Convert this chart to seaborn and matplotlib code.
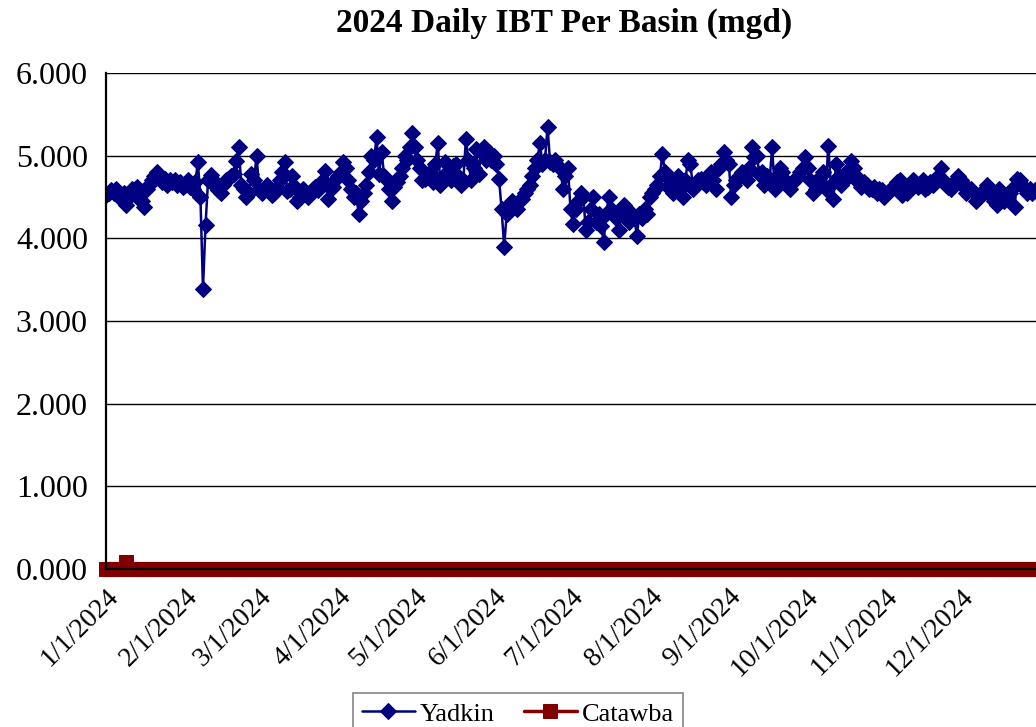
import pandas as pd
import matplotlib
matplotlib.use("Agg")
import matplotlib.pyplot as plt
import seaborn as sns

# daily values, one list per month
jan = [4.52, 4.55, 4.58, 4.55, 4.60, 4.50, 4.48, 4.55, 4.40, 4.50, 4.60, 4.55, 4.62, 4.48, 4.45, 4.38,
       4.60, 4.65, 4.70, 4.75, 4.80, 4.72, 4.68, 4.72, 4.65, 4.70, 4.68, 4.70, 4.65, 4.68, 4.62]
feb = [4.65, 4.70, 4.62, 4.60, 4.68, 4.92, 4.50, 3.39, 4.16, 4.70, 4.77, 4.70, 4.62, 4.58, 4.55,
       4.65, 4.70, 4.72, 4.75, 4.78, 4.93, 5.11, 4.65, 4.60, 4.50, 4.55, 4.78, 4.70, 5.00]
mar = [4.60, 4.55, 4.60, 4.65, 4.58, 4.52, 4.55, 4.62, 4.70, 4.80, 4.92, 4.57, 4.60, 4.75, 4.62, 4.45,
       4.50, 4.60, 4.55, 4.50, 4.55, 4.60, 4.62, 4.58, 4.65, 4.70, 4.81, 4.47, 4.60, 4.62, 4.72]
apr = [4.75, 4.80, 4.92, 4.85, 4.70, 4.60, 4.50, 4.55, 4.29, 4.45, 4.55, 4.65, 4.80, 5.00, 4.95,
       5.22, 4.78, 5.05, 4.75, 4.70, 4.60, 4.45, 4.62, 4.68, 4.75, 4.85, 5.00, 4.95, 5.10, 5.27]
may = [5.10, 4.95, 4.85, 4.70, 4.72, 4.75, 4.80, 4.68, 4.90, 5.15, 4.65, 4.75, 4.92, 4.80, 4.70, 4.88,
       4.90, 4.75, 4.65, 4.70, 5.20, 4.95, 4.70, 4.85, 5.08, 4.78, 5.05, 5.10, 4.95, 5.05, 4.95]
jun = [5.00, 4.90, 4.72, 4.35, 3.90, 4.30, 4.40, 4.45, 4.38, 4.35, 4.45, 4.48, 4.55, 4.60, 4.65,
       4.75, 4.85, 4.95, 5.15, 4.90, 4.95, 5.35, 4.92, 4.90, 4.95, 4.88, 4.85, 4.60, 4.75, 4.85]
jul = [4.35, 4.17, 4.35, 4.45, 4.55, 4.50, 4.10, 4.20, 4.35, 4.50, 4.20, 4.30, 4.15, 3.96, 4.30, 4.50,
       4.35, 4.30, 4.25, 4.10, 4.30, 4.40, 4.35, 4.20, 4.30, 4.25, 4.03, 4.30, 4.25, 4.35, 4.30]
aug = [4.50, 4.55, 4.60, 4.65, 4.75, 5.02, 4.80, 4.62, 4.70, 4.55, 4.60, 4.75, 4.60, 4.50, 4.70, 4.95,
       4.90, 4.60, 4.65, 4.70, 4.72, 4.68, 4.65, 4.75, 4.80, 4.70, 4.60, 4.85, 4.90, 5.05, 4.95]
sep = [4.90, 4.50, 4.65, 4.70, 4.75, 4.80, 4.75, 4.70, 4.85, 5.10, 4.98, 5.00, 4.78, 4.80, 4.65,
       4.75, 4.70, 5.10, 4.60, 4.70, 4.85, 4.80, 4.70, 4.65, 4.60, 4.68, 4.70, 4.75, 4.80, 4.85]
oct = [4.98, 4.85, 4.70, 4.55, 4.60, 4.65, 4.75, 4.80, 4.60, 5.12, 4.65, 4.48, 4.90, 4.75, 4.65, 4.70,
       4.80, 4.75, 4.93, 4.85, 4.70, 4.72, 4.62, 4.68, 4.65, 4.60, 4.60, 4.62, 4.55, 4.60, 4.58]
nov = [4.50, 4.55, 4.58, 4.60, 4.65, 4.68, 4.70, 4.52, 4.60, 4.55, 4.60, 4.70, 4.68, 4.62, 4.65,
       4.70, 4.60, 4.62, 4.68, 4.65, 4.70, 4.75, 4.85, 4.70, 4.65, 4.62, 4.60, 4.65, 4.70, 4.75]
dec = [4.70, 4.62, 4.55, 4.60, 4.60, 4.55, 4.45, 4.50, 4.55, 4.55, 4.65, 4.55, 4.50, 4.45, 4.40, 4.60,
       4.55, 4.45, 4.50, 4.55, 4.60, 4.38, 4.72, 4.70, 4.65, 4.60, 4.55, 4.60, 4.55, 4.58, 4.55]

catawba_jan = [0, 0, 0, 0, 0, 0, 0, 0, 0.09, 0, 0, 0, 0, 0, 0, 0,
               0, 0, 0, 0, 0, 0, 0, 0, 0, 0, 0, 0, 0, 0, 0]
catawba_rest = [0.0] * 335

tick_dates = ["2024-01-01", "2024-02-01", "2024-03-01", "2024-04-01", "2024-05-01", "2024-06-01",
              "2024-07-01", "2024-08-01", "2024-09-01", "2024-10-01", "2024-11-01", "2024-12-01"]
tick_labels = ["1/1/2024", "2/1/2024", "3/1/2024", "4/1/2024", "5/1/2024", "6/1/2024",
               "7/1/2024", "8/1/2024", "9/1/2024", "10/1/2024", "11/1/2024", "12/1/2024"]
y_ticks = [0, 1, 2, 3, 4, 5, 6]

yadkin = jan + feb + mar + apr + may + jun + jul + aug + sep + oct + nov + dec
catawba = catawba_jan + catawba_rest

df = pd.DataFrame({
    "date": pd.date_range("2024-01-01", periods=len(yadkin), freq="D"),
    "Yadkin": yadkin,
    "Catawba": catawba,
})

sns.set_style("white")
plt.rcParams["font.family"] = ["Liberation Serif", "DejaVu Serif"]
plt.rcParams["text.color"] = "black"
plt.rcParams["xtick.color"] = "black"
plt.rcParams["ytick.color"] = "black"

fig = plt.figure(figsize=(10.36, 7.27), dpi=100)
ax = fig.add_axes([0.1023, 0.2173, 0.9017, 0.6823])

sns.lineplot(data=df, x="date", y="Yadkin", ax=ax, color="#000080", linewidth=1.8,
             marker="D", markersize=8.5, markeredgecolor="#000080", label="Yadkin")
sns.lineplot(data=df, x="date", y="Catawba", ax=ax, color="#800000", linewidth=2.5,
             marker="s", markersize=9.5, markeredgecolor="#800000", label="Catawba",
             clip_on=False)

ax.set_ylim(0, 6)
ax.set_yticks(y_ticks)
ax.set_yticklabels([f"{v:.3f}" for v in y_ticks], fontsize=23)
ax.set_xlim(pd.Timestamp("2024-01-01"), pd.Timestamp("2025-01-01"))
ax.set_xticks(pd.to_datetime(tick_dates))
ax.set_xticklabels(tick_labels, fontsize=20, rotation=45, ha="right", rotation_mode="anchor")
ax.set_xlabel("")
ax.set_ylabel("")

ax.grid(axis="y", color="black", linewidth=1.0)
ax.set_axisbelow(True)
ax.tick_params(axis="y", direction="out", length=7, width=1.2, color="black", pad=6)
ax.tick_params(axis="x", direction="out", length=6, width=1.0, color="#555555", pad=5)
for side in ["left", "bottom"]:
    ax.spines[side].set_color("black")
    ax.spines[side].set_linewidth(1.6)
ax.spines["top"].set_visible(False)
ax.spines["right"].set_visible(False)

fig.suptitle("2024 Daily IBT Per Basin (mgd)", fontsize=24, fontweight="bold", x=0.545, y=0.99,
             color="black")

ax.get_legend().remove()
handles, labels = ax.get_legend_handles_labels()
leg = fig.legend(handles, labels, loc="upper center", bbox_to_anchor=(0.5, 0.047), ncol=2,
                 fontsize=19, frameon=True, fancybox=False, edgecolor="#666666",
                 handlelength=2.0, handletextpad=0.2, columnspacing=1.1, borderpad=0.35,
                 borderaxespad=0)
leg.get_frame().set_linewidth(1.2)

fig.savefig("out.png", dpi=100)
